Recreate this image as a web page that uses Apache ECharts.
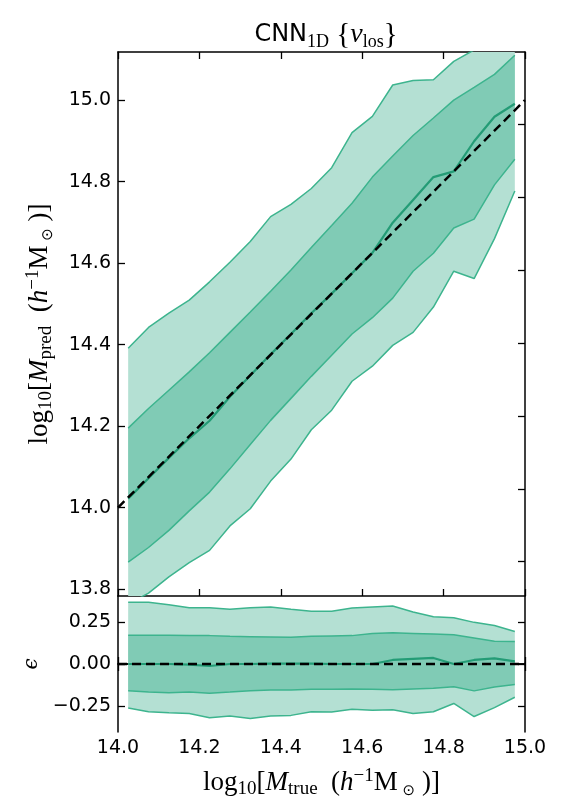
<!DOCTYPE html>
<html>
<head>
<meta charset="utf-8">
<script src="https://cdn.jsdelivr.net/npm/echarts@6/dist/echarts.min.js"></script>
<style>
  html, body { margin: 0; padding: 0; background: #fff; }
  #chart { width: 564px; height: 812px; }
</style>
</head>
<body>
<div id="chart"></div>
<script>
// bin centres in log10 M_true
var massBins = [14.025, 14.075, 14.125, 14.175, 14.225, 14.275, 14.325, 14.375, 14.425, 14.475,
                14.525, 14.575, 14.625, 14.675, 14.725, 14.775, 14.825, 14.875, 14.925, 14.975];

// top panel: percentiles of log10 M_pred
var predLo95 = [13.763, 13.790, 13.830, 13.865, 13.895, 13.955, 13.997, 14.065, 14.119, 14.191,
                14.239, 14.310, 14.347, 14.398, 14.430, 14.492, 14.580, 14.562, 14.660, 14.777];
var predLo68 = [13.866, 13.902, 13.944, 13.992, 14.038, 14.095, 14.155, 14.214, 14.268, 14.322,
                14.374, 14.426, 14.466, 14.514, 14.580, 14.624, 14.686, 14.708, 14.792, 14.855];
var predMed  = [14.022, 14.072, 14.122, 14.170, 14.213, 14.272, 14.324, 14.376, 14.426, 14.477,
                14.525, 14.575, 14.625, 14.699, 14.755, 14.811, 14.825, 14.899, 14.959, 14.991];
var predHi68 = [14.195, 14.243, 14.288, 14.333, 14.380, 14.430, 14.480, 14.531, 14.583, 14.638,
                14.692, 14.747, 14.811, 14.863, 14.913, 14.956, 15.000, 15.031, 15.063, 15.110];
var predHi95 = [14.391, 14.442, 14.477, 14.509, 14.554, 14.602, 14.653, 14.714, 14.744, 14.783,
                14.834, 14.920, 14.960, 15.037, 15.048, 15.050, 15.095, 15.123, 15.154, 15.169];

// bottom panel: epsilon
var epsLo95 = [-0.262, -0.285, -0.291, -0.295, -0.320, -0.310, -0.324, -0.310, -0.306, -0.284,
               -0.286, -0.270, -0.276, -0.272, -0.295, -0.284, -0.235, -0.313, -0.260, -0.198];
var epsLo68 = [-0.159, -0.167, -0.171, -0.167, -0.174, -0.167, -0.159, -0.155, -0.155, -0.151,
               -0.151, -0.149, -0.151, -0.153, -0.149, -0.145, -0.136, -0.160, -0.137, -0.122];
var epsMed  = [0.000, 0.000, 0.000, -0.004, -0.012, 0.000, 0.000, 0.002, 0.002, 0.002,
               0.000, 0.000, 0.000, 0.024, 0.030, 0.036, 0.000, 0.024, 0.034, 0.016];
var epsHi68 = [0.171, 0.171, 0.171, 0.169, 0.169, 0.165, 0.163, 0.161, 0.159, 0.165,
               0.167, 0.169, 0.182, 0.186, 0.182, 0.178, 0.174, 0.155, 0.136, 0.134];
var epsHi95 = [0.368, 0.368, 0.353, 0.335, 0.335, 0.326, 0.335, 0.339, 0.326, 0.314,
               0.314, 0.333, 0.339, 0.345, 0.310, 0.281, 0.275, 0.248, 0.229, 0.194];

// ticks
var yTicksTop = [13.8, 14.0, 14.2, 14.4, 14.6, 14.8, 15.0];
var yTicksTopRight = [13.868, 14.046, 14.225, 14.404, 14.583, 14.761, 14.94];
var yTicksEps = [-0.25, 0, 0.25];
var refX = [14.0, 15.0];

var lightFill = '#b4e0d3';
var darkFill = '#80cbb5';
var lineCol = '#3db48e';
var medCol = '#249c76';

var chart = echarts.init(document.getElementById('chart'));

function pairs(ys) {
  return massBins.map(function (x, i) { return [x, ys[i]]; });
}

function band(lo, hi, color, idx) {
  return {
    type: 'custom',
    xAxisIndex: idx === 0 ? 0 : 2,
    yAxisIndex: idx === 0 ? 0 : 2,
    clip: true,
    silent: true,
    z: 1,
    data: [[massBins[0], lo[0]]],
    renderItem: function (params, api) {
      var pts = [];
      for (var i = 0; i < massBins.length; i++) pts.push(api.coord([massBins[i], hi[i]]));
      for (var j = massBins.length - 1; j >= 0; j--) pts.push(api.coord([massBins[j], lo[j]]));
      return { type: 'polygon', shape: { points: pts }, style: { fill: color, stroke: null } };
    }
  };
}

function edge(ys, idx, color, w) {
  return {
    type: 'line',
    xAxisIndex: idx === 0 ? 0 : 2,
    yAxisIndex: idx === 0 ? 0 : 2,
    data: pairs(ys),
    symbol: 'none',
    silent: true,
    z: 3,
    lineStyle: { color: color, width: w }
  };
}

var axisLine = { show: true, lineStyle: { color: '#000', width: 1.5 } };
var tickIn = { show: true, inside: true, length: 7, lineStyle: { color: '#000', width: 1.3 } };
var labelFont = { fontFamily: 'DejaVu Sans', fontSize: 19, color: '#000' };

var serif = 'Liberation Serif';
var mathRich = {
  r: { fontFamily: serif, fontSize: 27, color: '#000', lineHeight: 32 },
  i: { fontFamily: serif, fontStyle: 'italic', fontSize: 27, color: '#000', lineHeight: 32 },
  s: { fontFamily: serif, fontSize: 19, color: '#000', verticalAlign: 'bottom', lineHeight: 16 },
  p: { fontFamily: serif, fontSize: 19, color: '#000', verticalAlign: 'top', lineHeight: 16 },
  o: { fontFamily: 'DejaVu Sans', fontSize: 15, color: '#000', verticalAlign: 'bottom', lineHeight: 16 }
};

function fmtMinus(v, d) {
  return v.toFixed(d).replace('-', '\u2212');
}

var option = {
  animation: false,
  backgroundColor: '#fff',
  title: {
    text: '{a|CNN}{b|1D} {{c|v}{d|los}}',
    left: 321,
    top: 14,
    textAlign: 'center',
    textStyle: {
      fontFamily: serif, fontSize: 29, color: '#000', fontWeight: 'normal',
      rich: {
        a: { fontFamily: 'DejaVu Sans', fontSize: 24, color: '#000', lineHeight: 32 },
        b: { fontFamily: serif, fontSize: 18, color: '#000', verticalAlign: 'bottom', lineHeight: 15 },
        c: { fontFamily: serif, fontStyle: 'italic', fontSize: 28, color: '#000', lineHeight: 32 },
        d: { fontFamily: serif, fontSize: 18, color: '#000', verticalAlign: 'bottom', lineHeight: 15 }
      }
    }
  },
  grid: [
    { left: 118, top: 52, width: 407, height: 544 },
    { left: 118, top: 596, width: 407, height: 136 }
  ],
  xAxis: [
    { gridIndex: 0, type: 'value', min: 14, max: 15, interval: 0.2, position: 'bottom',
      axisLine: axisLine, axisTick: tickIn, axisLabel: { show: false }, splitLine: { show: false } },
    { gridIndex: 0, type: 'value', min: 14, max: 15, interval: 0.2, position: 'top',
      axisLine: axisLine, axisTick: tickIn, axisLabel: { show: false }, splitLine: { show: false } },
    { gridIndex: 1, type: 'value', min: 14, max: 15, interval: 0.2, position: 'bottom',
      axisLine: axisLine, axisTick: tickIn, splitLine: { show: false },
      axisLabel: Object.assign({ margin: 7, formatter: function (v) { return v.toFixed(1); } }, labelFont),
      name: '{r|log}{s|10}{r|[}{i|M}{s|true}{r|  (}{i|h}{p|\u22121}{r|M}{o| \u2299}{r| )]}',
      nameLocation: 'middle', nameGap: 35,
      nameTextStyle: { fontFamily: serif, fontSize: 27, color: '#000', rich: mathRich } },
    { gridIndex: 1, type: 'value', min: 14, max: 15, interval: 0.2, position: 'top',
      axisLine: axisLine, axisTick: tickIn, axisLabel: { show: false }, splitLine: { show: false } }
  ],
  yAxis: [
    { gridIndex: 0, type: 'value', min: 13.783, max: 15.118, position: 'left',
      axisLine: axisLine, splitLine: { show: false },
      axisTick: Object.assign({ customValues: yTicksTop }, tickIn),
      axisLabel: Object.assign({ margin: 7, customValues: yTicksTop,
        formatter: function (v) { return v.toFixed(1); } }, labelFont),
      name: '{r|log}{s|10}{r|[}{i|M}{s|pred}{r|  (}{i|h}{p|\u22121}{r|M}{o| \u2299}{r| )]}',
      nameLocation: 'middle', nameGap: 62, nameRotate: 90,
      nameTextStyle: { fontFamily: serif, fontSize: 27, color: '#000', rich: mathRich } },
    { gridIndex: 0, type: 'value', min: 13.783, max: 15.118, position: 'right',
      axisLine: axisLine, splitLine: { show: false },
      axisTick: Object.assign({ customValues: yTicksTopRight }, tickIn),
      axisLabel: { show: false, customValues: yTicksTopRight } },
    { gridIndex: 1, type: 'value', min: -0.405, max: 0.405, position: 'left',
      axisLine: axisLine, splitLine: { show: false },
      axisTick: Object.assign({ customValues: yTicksEps }, tickIn),
      axisLabel: Object.assign({ margin: 7, customValues: yTicksEps,
        formatter: function (v) { return fmtMinus(v, 2); } }, labelFont),
      name: '\u03f5', nameLocation: 'middle', nameGap: 62, nameRotate: 90,
      nameTextStyle: { fontFamily: 'DejaVu Serif', fontStyle: 'italic', fontSize: 20, color: '#000' } },
    { gridIndex: 1, type: 'value', min: -0.405, max: 0.405, position: 'right',
      axisLine: axisLine, splitLine: { show: false },
      axisTick: Object.assign({ customValues: yTicksEps }, tickIn),
      axisLabel: { show: false, customValues: yTicksEps } }
  ],
  series: [
    band(predLo95, predHi95, lightFill, 0),
    band(predLo68, predHi68, darkFill, 0),
    edge(predLo95, 0, lineCol, 1.5),
    edge(predLo68, 0, lineCol, 1.5),
    edge(predHi68, 0, lineCol, 1.5),
    edge(predHi95, 0, lineCol, 1.5),
    edge(predMed, 0, medCol, 2.2),
    {
      type: 'line', xAxisIndex: 0, yAxisIndex: 0, symbol: 'none', silent: true, z: 5,
      data: refX.map(function (x) { return [x, x]; }),
      lineStyle: { color: '#000', width: 2.5, type: [9, 5] }
    },
    band(epsLo95, epsHi95, lightFill, 1),
    band(epsLo68, epsHi68, darkFill, 1),
    edge(epsLo95, 1, lineCol, 1.5),
    edge(epsLo68, 1, lineCol, 1.5),
    edge(epsHi68, 1, lineCol, 1.5),
    edge(epsHi95, 1, lineCol, 1.5),
    edge(epsMed, 1, medCol, 2.2),
    {
      type: 'line', xAxisIndex: 2, yAxisIndex: 2, symbol: 'none', silent: true, z: 5,
      data: refX.map(function (x) { return [x, 0]; }),
      lineStyle: { color: '#000', width: 2.5, type: [9, 5] }
    }
  ]
};

chart.setOption(option);
</script>
</body>
</html>
